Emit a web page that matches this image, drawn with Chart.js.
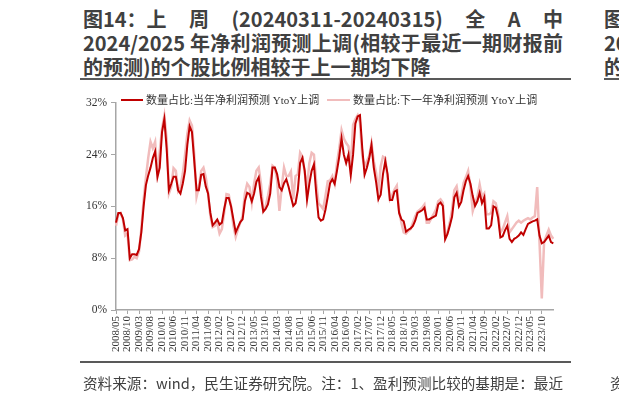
<!DOCTYPE html>
<html><head><meta charset="utf-8">
<script src="https://cdn.jsdelivr.net/npm/chart.js@4/dist/chart.umd.min.js"></script>
<style>
html,body{margin:0;padding:0;width:619px;height:401px;overflow:hidden;background:#fff;position:relative;}
.title{position:absolute;left:83px;width:480px;font-family:"Noto Sans CJK SC","Noto Sans",sans-serif;font-weight:bold;font-size:20px;color:#404040;line-height:24px;white-space:nowrap;}
.j{display:flex;justify-content:space-between;}
.rule{position:absolute;height:2px;background:#595959;}
.foot{position:absolute;left:83px;width:480px;top:372px;font-family:"Noto Sans CJK SC","Noto Sans",sans-serif;font-size:14.6px;color:#404040;line-height:22px;white-space:nowrap;text-align:justify;text-align-last:justify;}
.leg{position:absolute;top:93px;font-family:"Liberation Serif","Noto Sans CJK SC",serif;font-size:11px;color:#333;line-height:14px;white-space:nowrap;}
.sw{position:absolute;height:2px;}
#wrap{position:absolute;left:60px;top:92px;width:497px;height:275px;}
.edge{position:absolute;left:604px;font-family:"Noto Sans CJK SC",sans-serif;font-weight:bold;font-size:20px;color:#404040;line-height:24px;white-space:nowrap;}
</style></head>
<body>
<div class="title j" style="top:7px;"><span>图14：上</span><span>周</span><span>(20240311-20240315)</span><span>全</span><span>A</span><span>中</span></div>
<div class="title" style="top:31px;text-align:justify;text-align-last:justify;">2024/2025 年净利润预测上调(相较于最近一期财报前</div>
<div class="title" style="top:55px;">的预测)的个股比例相较于上一期均下降</div>
<div class="rule" style="left:80px;width:491px;top:78px;"></div>
<div class="edge" style="top:7px;">图15：</div>
<div class="edge" style="top:31px;">2024/2025</div>
<div class="edge" style="top:55px;">的预测</div>
<div class="rule" style="left:604px;width:20px;top:78px;"></div>

<div id="wrap"><canvas id="c" width="497" height="275"></canvas></div>

<div class="sw" style="left:121px;top:99px;width:22px;background:#C00000;"></div>
<div class="leg" style="left:146px;">数量占比:当年净利润预测 YtoY上调</div>
<div class="sw" style="left:327px;top:99px;width:23px;background:#F1BCBC;"></div>
<div class="leg" style="left:353px;">数量占比:下一年净利润预测 YtoY上调</div>

<div class="rule" style="left:80px;width:491px;top:361px;"></div>
<div class="foot">资料来源：wind，民生证券研究院。注：1、盈利预测比较的基期是：最近</div>
<div class="foot" style="left:610px;width:80px;text-align:left;text-align-last:left;">资料来源</div>

<script>
// Start month of the monthly series and its length
const startYear = 2008, startMonth = 5, monthCount = 191;
// Tick labels shown on the x axis
const tickLabels = ['2008/05','2008/10','2009/03','2009/08','2010/01','2010/06','2010/11','2011/04','2011/09','2012/02','2012/07','2012/12','2013/05','2013/10','2014/03','2014/08','2015/01','2015/06','2015/11','2016/04','2016/09','2017/02','2017/07','2017/12','2018/05','2018/10','2019/03','2019/08','2020/01','2020/06','2020/11','2021/04','2021/09','2022/02','2022/07','2022/12','2023/05','2023/10'];
// Y ticks (%)
const yTicks = [0, 8, 16, 24, 32];
// Series: share of stocks with current-year net profit forecast revised up (%)
const currentYear = [13.5,15.0,15.0,14.2,12.3,12.5,8.0,8.6,8.6,8.5,
 9.4,12.0,16.0,19.3,20.8,22.0,23.5,24.5,20.5,22.0,
 27.5,29.5,25.0,18.5,19.5,20.6,20.6,18.5,18.0,19.5,
 21.5,25.5,28.4,27.5,23.0,18.5,18.5,20.9,21.0,19.1,
 18.0,15.0,13.1,13.5,14.0,13.2,13.5,15.6,17.3,17.3,
 16.0,14.0,12.0,12.8,13.6,14.0,16.8,18.1,17.9,16.8,
 18.0,19.8,20.5,17.5,15.2,15.6,16.3,18.0,22.0,22.0,
 21.0,19.0,18.5,19.6,20.2,19.0,17.5,16.1,16.5,18.5,
 22.7,23.5,21.5,17.0,19.5,21.5,22.5,18.0,14.3,13.8,
 14.0,15.5,17.5,19.6,20.2,19.5,21.5,23.7,26.5,24.0,
 22.7,24.0,20.8,24.0,28.8,29.9,30.1,25.0,20.9,22.0,
 23.4,25.5,22.0,19.8,17.1,17.8,21.0,23.0,21.0,17.0,
 17.0,18.3,18.5,15.0,14.0,13.7,12.1,12.4,12.6,13.0,
 13.8,15.0,15.2,15.4,15.8,14.0,14.0,14.2,14.4,14.6,
 16.3,16.6,16.1,10.9,11.7,13.0,14.4,17.4,18.1,16.0,
 16.7,18.5,19.9,20.7,19.5,17.6,16.1,16.8,18.1,16.5,
 17.4,12.6,12.6,13.1,16.0,15.8,14.3,11.2,11.4,12.3,
 13.0,11.0,10.5,11.0,11.2,11.5,12.0,11.6,12.5,13.3,
 13.5,13.7,13.8,14.0,11.5,10.3,10.5,11.0,11.5,10.5,
 10.3];
// Series: share of stocks with next-year net profit forecast revised up (%)
const nextYear = [13.0,14.8,15.0,14.0,11.5,11.8,7.7,7.8,8.2,8.0,
 9.0,12.5,17.0,20.5,23.5,26.0,25.0,26.0,21.0,24.5,
 28.0,30.0,26.5,18.0,19.0,21.9,21.5,18.4,19.0,21.0,
 24.0,27.3,29.3,28.5,24.0,17.5,19.0,21.5,22.0,20.5,
 18.0,14.5,12.8,13.0,13.5,11.8,12.5,15.0,17.9,17.8,
 16.0,13.0,11.3,12.5,13.5,14.5,18.0,19.5,19.0,16.6,
 19.5,21.5,22.0,19.5,15.3,16.0,17.6,19.5,22.3,22.0,
 20.0,15.3,19.0,22.0,20.7,20.7,21.4,17.1,20.7,21.0,
 24.3,23.7,21.2,19.0,22.7,24.3,24.0,19.6,16.5,16.1,
 15.6,17.6,19.9,20.0,20.7,19.5,22.7,25.0,27.8,26.5,
 25.8,25.3,22.0,28.6,29.5,30.1,29.0,23.8,22.2,23.0,
 23.8,25.8,23.0,21.2,18.1,22.2,23.7,23.5,20.2,17.1,
 17.8,18.6,19.2,15.3,13.5,12.0,11.8,12.2,12.5,13.5,
 14.5,15.2,15.5,15.8,16.3,13.5,13.5,14.2,14.8,15.5,
 16.8,17.1,16.6,11.5,12.0,13.5,15.5,18.5,19.1,17.0,
 17.5,19.6,20.5,21.5,19.0,15.3,16.5,17.5,19.4,17.5,
 18.0,14.8,14.8,15.0,16.8,16.5,15.0,12.0,12.5,13.5,
 14.5,12.0,12.5,13.0,13.5,13.8,13.5,13.8,14.0,14.2,
 14.0,14.3,14.5,19.0,10.5,1.8,10.5,11.5,12.4,11.5,
 11.0];
const seriesNames = ['数量占比:当年净利润预测 YtoY上调','数量占比:下一年净利润预测 YtoY上调'];

const months = [];
for (let i = 0; i < monthCount; i++) {
  const t = startMonth - 1 + i;
  const y = startYear + Math.floor(t / 12);
  const m = (t % 12) + 1;
  months.push(y + '/' + (m < 10 ? '0' + m : m));
}

const axisColor = '#A6A6A6';
new Chart(document.getElementById('c'), {
  type: 'line',
  data: {
    labels: months,
    datasets: [
      {label: seriesNames[0], data: currentYear, borderColor: '#C00000', borderWidth: 2, pointRadius: 0, tension: 0, order: 0},
      {label: seriesNames[1], data: nextYear, borderColor: '#F1BCBC', borderWidth: 2.5, pointRadius: 0, tension: 0, order: 1}
    ]
  },
  options: {
    responsive: false, animation: false, devicePixelRatio: 1,
    layout: {padding: {top: 9, right: 0, bottom: 0, left: 0}},
    plugins: {legend: {display: false}, tooltip: {enabled: false}},
    scales: {
      x: {
        type: 'category', offset: false,
        afterFit: s => { s.height = 57; },
        grid: {drawOnChartArea: false, drawTicks: true, tickLength: 4, color: axisColor, lineWidth: 1},
        border: {display: true, color: axisColor, width: 1.5},
        ticks: {
          autoSkip: false, minRotation: 90, maxRotation: 90, padding: 2,
          font: {family: '"Liberation Serif", serif', size: 11}, color: '#333',
          callback: function(v, i) { const l = months[i]; return tickLabels.includes(l) ? l : null; }
        }
      },
      y: {
        min: yTicks[0], max: yTicks[yTicks.length - 1],
        afterFit: s => { s.width = 56; },
        afterBuildTicks: s => { s.ticks = yTicks.map(v => ({value: v})); },
        grid: {drawOnChartArea: false, drawTicks: true, tickLength: 5, color: axisColor},
        border: {display: true, color: axisColor, width: 1.5},
        ticks: {padding: 4, font: {family: '"Liberation Serif", serif', size: 11.5}, color: '#333', callback: v => v + '%'}
      }
    }
  }
});
</script>
</body></html>
